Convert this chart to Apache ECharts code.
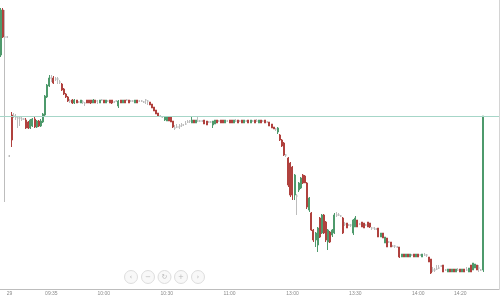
<!DOCTYPE html>
<html>
<head>
<meta charset="utf-8">
<script src="https://cdn.jsdelivr.net/npm/echarts@6/dist/echarts.min.js"></script>
<style>
html,body{margin:0;padding:0;background:#fff;}
#c{width:501px;height:300px;}
</style>
</head>
<body>
<div id="c"></div>
<script>
// ---- data ----
// trading sessions shown on the axis: [day, first minute, last minute]
const sessions = [
  ['28', '14:57', '15:00'],
  ['29', '09:15', '11:29'],
  ['29', '13:00', '14:38']
];
// tick labels: category value -> shown text
const tickValues = ['29 09:15', '29 09:35', '29 10:00', '29 10:30', '29 11:00', '29 13:00', '29 13:30', '29 14:00', '29 14:20'];
const tickTexts  = ['29', '09:35', '10:00', '10:30', '11:00', '13:00', '13:30', '14:00', '14:20'];

// 1-minute candles: [open, close, low, high]
const candles = [
  [12.45,12.90,12.43,12.92],[12.90,12.63,12.62,12.92],[12.63,12.63,10.98,12.90],[12.63,12.63,12.62,12.64],
  [11.44,11.44,11.43,11.45],[11.85,11.60,11.53,11.88],[11.84,11.84,11.82,11.87],[11.83,11.83,11.80,11.86],
  [11.82,11.82,11.72,11.84],[11.82,11.82,11.74,11.84],[11.81,11.81,11.79,11.83],[11.81,11.81,11.80,11.82],
  [11.80,11.72,11.71,11.82],[11.78,11.72,11.71,11.79],[11.72,11.80,11.71,11.81],[11.74,11.81,11.73,11.82],
  [11.81,11.73,11.72,11.83],[11.73,11.79,11.72,11.80],[11.79,11.74,11.73,11.80],[11.74,11.79,11.73,11.81],
  [11.78,11.86,11.77,11.87],[11.85,12.04,11.84,12.05],[12.03,12.15,12.02,12.16],[12.14,12.22,12.13,12.25],
  [12.22,12.22,12.18,12.25],[12.22,12.17,12.16,12.24],[12.21,12.21,12.19,12.23],[12.21,12.21,12.16,12.23],
  [12.18,12.18,12.16,12.20],[12.16,12.10,12.09,12.17],[12.11,12.06,12.05,12.12],[12.06,12.03,12.02,12.07],
  [12.03,11.99,11.98,12.04],[11.99,11.99,11.97,12.01],[12.00,11.97,11.96,12.01],[11.97,12.00,11.96,12.01],
  [12.00,11.97,11.97,12.00],[11.98,11.98,11.97,11.99],[11.97,12.00,11.97,12.00],[11.98,11.98,11.96,12.00],
  [11.97,11.97,11.94,11.98],[12.00,11.97,11.97,12.00],[12.00,11.97,11.97,12.00],[12.00,11.97,11.96,12.00],
  [11.97,12.00,11.97,12.01],[12.00,11.97,11.97,12.00],[11.99,11.99,11.96,12.00],[11.97,12.00,11.97,12.00],
  [12.00,12.00,11.99,12.01],[12.00,11.97,11.97,12.00],[11.97,12.00,11.97,12.00],[11.99,11.99,11.98,12.00],
  [12.00,11.97,11.97,12.00],[12.00,11.97,11.96,12.00],[11.98,11.98,11.97,11.99],[11.99,11.99,11.98,12.00],
  [11.94,11.99,11.92,12.00],[12.00,11.97,11.97,12.00],[11.97,12.00,11.97,12.00],[12.00,11.97,11.97,12.00],
  [12.00,12.00,11.99,12.01],[12.00,11.97,11.97,12.00],[11.99,11.99,11.98,12.00],[11.99,11.99,11.98,12.00],
  [11.97,12.00,11.97,12.00],[12.00,11.97,11.97,12.00],[11.99,11.99,11.98,12.00],[11.99,11.99,11.98,12.00],
  [11.98,11.98,11.97,11.99],[12.00,12.00,11.96,12.01],[11.99,11.99,11.95,12.00],[11.98,11.95,11.95,11.98],
  [11.96,11.92,11.92,11.96],[11.93,11.89,11.89,11.93],[11.90,11.86,11.86,11.90],[11.87,11.84,11.84,11.87],
  [11.84,11.84,11.83,11.85],[11.83,11.83,11.82,11.84],[11.80,11.83,11.79,11.84],[11.79,11.83,11.79,11.83],
  [11.83,11.79,11.79,11.83],[11.83,11.78,11.78,11.83],[11.79,11.73,11.72,11.79],[11.72,11.72,11.70,11.75],
  [11.73,11.73,11.72,11.76],[11.73,11.73,11.71,11.76],[11.74,11.74,11.73,11.77],[11.75,11.75,11.74,11.76],
  [11.76,11.76,11.75,11.79],[11.78,11.78,11.77,11.80],[11.79,11.79,11.77,11.80],[11.77,11.80,11.77,11.83],
  [11.80,11.77,11.77,11.80],[11.77,11.80,11.77,11.80],[11.79,11.79,11.78,11.83],[11.79,11.79,11.78,11.80],
  [11.79,11.79,11.78,11.80],[11.80,11.76,11.76,11.80],[11.79,11.75,11.75,11.79],[11.78,11.78,11.77,11.79],
  [11.78,11.78,11.77,11.79],[11.75,11.79,11.72,11.79],[11.76,11.80,11.76,11.80],[11.80,11.77,11.77,11.80],
  [11.79,11.79,11.78,11.80],[11.80,11.77,11.77,11.80],[11.80,11.77,11.77,11.80],[11.77,11.80,11.77,11.80],
  [11.79,11.79,11.78,11.80],[11.80,11.77,11.77,11.80],[11.80,11.77,11.77,11.80],[11.77,11.80,11.77,11.80],
  [11.79,11.79,11.78,11.81],[11.80,11.77,11.77,11.80],[11.79,11.79,11.78,11.80],[11.80,11.77,11.77,11.80],
  [11.77,11.80,11.77,11.80],[11.79,11.79,11.78,11.80],[11.80,11.77,11.77,11.80],[11.77,11.80,11.77,11.80],
  [11.79,11.79,11.78,11.80],[11.80,11.77,11.77,11.80],[11.79,11.79,11.78,11.81],[11.77,11.80,11.77,11.80],
  [11.80,11.77,11.77,11.80],[11.79,11.79,11.78,11.80],[11.80,11.77,11.77,11.80],[11.78,11.78,11.77,11.79],
  [11.78,11.74,11.74,11.78],[11.76,11.72,11.72,11.76],[11.73,11.71,11.71,11.73],[11.71,11.71,11.69,11.72],
  [11.68,11.72,11.66,11.73],[11.65,11.60,11.59,11.66],[11.60,11.54,11.53,11.61],[11.57,11.45,11.44,11.58],
  [11.45,11.45,11.43,11.46],[11.42,11.15,11.13,11.43],[11.37,11.05,11.03,11.38],[11.33,11.05,11.00,11.34],
  [11.05,11.25,11.00,11.26],[11.04,11.04,10.85,11.06],[11.10,11.17,11.08,11.18],[11.12,11.22,11.11,11.23],
  [11.25,11.17,11.16,11.26],[11.24,11.17,11.17,11.25],[11.17,10.93,10.91,11.18],[10.90,11.02,10.88,11.03],
  [10.87,10.70,10.69,10.88],[10.70,10.60,10.58,10.71],[10.60,10.67,10.53,10.68],[10.55,10.72,10.48,10.73],
  [10.82,10.63,10.62,10.83],[10.67,10.85,10.66,10.86],[10.85,10.67,10.66,10.86],[10.78,10.60,10.58,10.79],
  [10.58,10.70,10.50,10.71],[10.68,10.58,10.57,10.69],[10.65,10.70,10.63,10.71],[10.67,10.85,10.66,10.87],
  [10.85,10.85,10.83,10.88],[10.85,10.85,10.84,10.87],[10.84,10.84,10.83,10.85],[10.82,10.67,10.66,10.83],
  [10.76,10.76,10.74,10.78],[10.77,10.72,10.72,10.77],[10.75,10.75,10.74,10.76],[10.75,10.75,10.73,10.76],
  [10.67,10.80,10.65,10.81],[10.73,10.82,10.73,10.84],[10.80,10.73,10.73,10.80],[10.76,10.76,10.75,10.77],
  [10.78,10.73,10.73,10.78],[10.77,10.72,10.72,10.77],[10.75,10.75,10.74,10.76],[10.78,10.73,10.73,10.78],
  [10.77,10.73,10.72,10.77],[10.72,10.72,10.70,10.73],[10.72,10.72,10.70,10.73],[10.71,10.71,10.70,10.72],
  [10.72,10.63,10.63,10.72],[10.63,10.67,10.63,10.67],[10.67,10.62,10.62,10.67],[10.57,10.63,10.57,10.63],
  [10.62,10.53,10.53,10.62],[10.58,10.58,10.57,10.59],[10.58,10.53,10.53,10.58],[10.54,10.54,10.53,10.55],
  [10.54,10.54,10.52,10.55],[10.53,10.53,10.52,10.54],[10.53,10.43,10.42,10.53],[10.43,10.46,10.43,10.46],
  [10.46,10.43,10.43,10.46],[10.43,10.46,10.43,10.46],[10.46,10.43,10.43,10.46],[10.43,10.46,10.43,10.46],
  [10.45,10.45,10.44,10.46],[10.46,10.43,10.43,10.46],[10.43,10.46,10.43,10.46],[10.46,10.43,10.43,10.46],
  [10.45,10.45,10.44,10.46],[10.43,10.46,10.43,10.46],[10.45,10.45,10.44,10.47],[10.45,10.45,10.43,10.46],
  [10.43,10.38,10.38,10.43],[10.41,10.27,10.26,10.41],[10.30,10.30,10.28,10.33],[10.30,10.30,10.28,10.32],
  [10.31,10.31,10.30,10.35],[10.32,10.32,10.31,10.35],[10.34,10.34,10.33,10.35],[10.35,10.28,10.28,10.35],
  [10.30,10.30,10.29,10.31],[10.28,10.31,10.28,10.31],[10.31,10.28,10.28,10.31],[10.28,10.31,10.28,10.31],
  [10.31,10.28,10.28,10.31],[10.28,10.31,10.28,10.31],[10.30,10.30,10.29,10.32],[10.31,10.28,10.28,10.31],
  [10.28,10.31,10.28,10.31],[10.31,10.28,10.28,10.31],[10.30,10.30,10.29,10.33],[10.28,10.32,10.28,10.32],
  [10.35,10.28,10.28,10.35],[10.30,10.37,10.30,10.37],[10.32,10.36,10.32,10.36],[10.35,10.30,10.30,10.35],
  [10.32,10.32,10.28,10.35],[10.30,10.30,10.29,10.31],[10.30,11.84,10.28,11.84]
];
const priceMin = 10.11;
const priceMax = 13.00;

// ---- build axis categories from sessions ----
function toMin(t){const p=t.split(':');return (+p[0])*60+(+p[1]);}
function pad(n){return (n<10?'0':'')+n;}
const categories = [];
sessions.forEach(function(s){
  for(let m=toMin(s[1]); m<=toMin(s[2]); m++){
    categories.push(s[0]+' '+pad(Math.floor(m/60))+':'+pad(m%60));
  }
});
const tickMap = {};
tickValues.forEach(function(v,i){tickMap[v]=tickTexts[i];});
const lastClose = candles[candles.length-1][1];

const chart = echarts.init(document.getElementById('c'), null, {renderer:'canvas'});

const btnX = [131, 148, 164.5, 181, 198];
const btnGlyph = ['\u2039', '\u2212', '\u21BB', '+', '\u203A'];
const graphics = [];
btnX.forEach(function(x,i){
  graphics.push({type:'circle', shape:{cx:x, cy:277, r:6.5}, style:{fill:'#f8f8f8', stroke:'#dedede', lineWidth:1}, z:100});
  graphics.push({type:'text', x:x, y:277, style:{text:btnGlyph[i], fill:'#b8b8b8', font:'7px DejaVu Sans', align:'center', verticalAlign:'middle'}, z:101});
});

chart.setOption({
  animation:false,
  backgroundColor:'#ffffff',
  grid:{left:0, right:2, top:0, bottom:11, containLabel:false},
  xAxis:{
    type:'category',
    data:categories,
    boundaryGap:true,
    axisLine:{show:true, lineStyle:{color:'#bdbdbd', width:1}},
    axisTick:{show:false},
    splitLine:{show:false},
    axisLabel:{
      show:true,
      interval:function(idx, val){return tickMap.hasOwnProperty(val);},
      formatter:function(val){return tickMap[val] || '';},
      fontSize:5,
      color:'#8a8a8a',
      fontFamily:'Liberation Sans',
      margin:2
    }
  },
  yAxis:{
    type:'value',
    position:'right',
    min:priceMin,
    max:priceMax,
    axisLine:{show:true, lineStyle:{color:'#d4d4d4', width:1}},
    axisTick:{show:false},
    axisLabel:{show:false},
    splitLine:{show:false}
  },
  series:[{
    type:'candlestick',
    data:candles,
    barWidth:1.5,
    itemStyle:{
      color:'#4e9a6c',
      color0:'#b0413e',
      borderColor:'#4e9a6c',
      borderColor0:'#b0413e',
      borderColorDoji:'#bdbdbd',
      borderWidth:1
    },
    markLine:{
      silent:true,
      symbol:['none','none'],
      label:{show:false},
      lineStyle:{color:'#a6d6c8', type:'solid', width:1},
      data:[{yAxis:lastClose}]
    }
  }],
  graphic:graphics
});
</script>
</body>
</html>
